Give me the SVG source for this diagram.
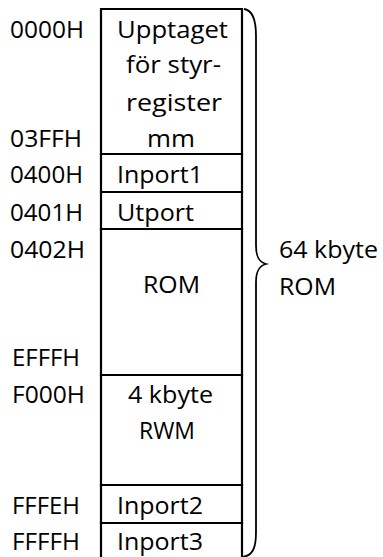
<svg xmlns="http://www.w3.org/2000/svg" width="383" height="557" viewBox="0 0 383 557">
  <style>
    text { font-family: "Open Sans", "Liberation Sans", sans-serif; font-size: 24.5px; fill: #000; }
    .box { fill: #fff; stroke: #000; stroke-width: 2.2; }
    .brace { fill: none; stroke: #000; stroke-width: 1.8; }
  </style>
  <rect width="383" height="557" fill="#fff"/>

  <!-- address column -->
  <g id="addresses">
    <text x="10" y="38" textLength="74" lengthAdjust="spacingAndGlyphs">0000H</text>
    <text x="10" y="147" textLength="72" lengthAdjust="spacingAndGlyphs">03FFH</text>
    <text x="10" y="183" textLength="73" lengthAdjust="spacingAndGlyphs">0400H</text>
    <text x="10" y="221" textLength="73" lengthAdjust="spacingAndGlyphs">0401H</text>
    <text x="10" y="258" textLength="75" lengthAdjust="spacingAndGlyphs">0402H</text>
    <text x="12" y="366" textLength="68" lengthAdjust="spacingAndGlyphs">EFFFH</text>
    <text x="12" y="403" textLength="73" lengthAdjust="spacingAndGlyphs">F000H</text>
    <text x="12" y="514" textLength="68" lengthAdjust="spacingAndGlyphs">FFFEH</text>
    <text x="12" y="550" textLength="68" lengthAdjust="spacingAndGlyphs">FFFFH</text>
  </g>

  <!-- memory map cells -->
  <g id="cell-styr">
    <path class="box" d="M101,9 H242 V154 H101 Z"/>
    <text x="117" y="38" textLength="111" lengthAdjust="spacingAndGlyphs">Upptaget</text>
    <text x="126" y="73" textLength="95" lengthAdjust="spacingAndGlyphs">för styr-</text>
    <text x="126" y="111" textLength="96" lengthAdjust="spacingAndGlyphs">register</text>
    <text x="147" y="147" textLength="48" lengthAdjust="spacingAndGlyphs">mm</text>
  </g>
  <g id="cell-inport1">
    <path class="box" d="M101,154 H242 V192 H101 Z"/>
    <text x="117" y="183" textLength="86" lengthAdjust="spacingAndGlyphs">Inport1</text>
  </g>
  <g id="cell-utport">
    <path class="box" d="M101,192 H242 V229 H101 Z"/>
    <text x="117" y="221" textLength="77" lengthAdjust="spacingAndGlyphs">Utport</text>
  </g>
  <g id="cell-rom">
    <path class="box" d="M101,229 H242 V375 H101 Z"/>
    <text x="143" y="293" textLength="57" lengthAdjust="spacingAndGlyphs">ROM</text>
  </g>
  <g id="cell-rwm">
    <path class="box" d="M101,375 H242 V485 H101 Z"/>
    <text x="128" y="403" textLength="85" lengthAdjust="spacingAndGlyphs">4 kbyte</text>
    <text x="139" y="439" textLength="56" lengthAdjust="spacingAndGlyphs">RWM</text>
  </g>
  <g id="cell-inport2">
    <path class="box" d="M101,485 H242 V523 H101 Z"/>
    <text x="117" y="514" textLength="86" lengthAdjust="spacingAndGlyphs">Inport2</text>
  </g>
  <g id="cell-inport3">
    <path class="box" d="M101,523 H242 V560 H101 Z"/>
    <text x="117" y="550" textLength="86" lengthAdjust="spacingAndGlyphs">Inport3</text>
  </g>

  <!-- brace spanning the whole map -->
  <g id="connectors">
    <path class="brace" d="M244,9 C252,10 256,18 256,36 L256,246 C256,257 259,262 266,264 C259,266 256,271 256,282 L256,532 C256,548 253,555 243,557"/>
  </g>
  <g id="label-64k">
    <text x="279" y="258" textLength="99" lengthAdjust="spacingAndGlyphs">64 kbyte</text>
    <text x="279" y="295" textLength="57" lengthAdjust="spacingAndGlyphs">ROM</text>
  </g>
</svg>
